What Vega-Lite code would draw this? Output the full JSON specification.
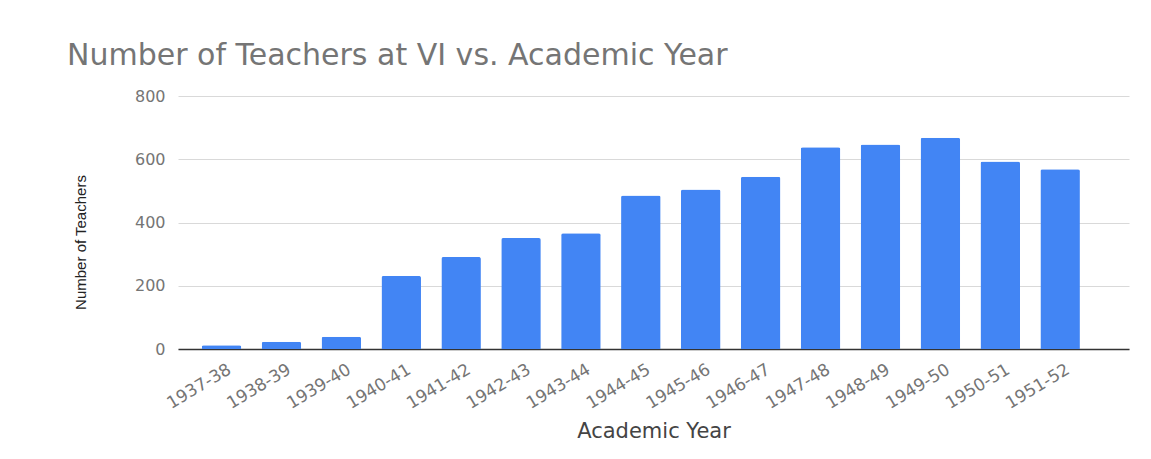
{
  "$schema": "https://vega.github.io/schema/vega-lite/v6.json",
  "autosize": {"type": "none"},
  "padding": {"left": 178, "top": 96, "right": 22, "bottom": 110},
  "width": 951,
  "height": 253,
  "background": "white",
  "title": {
    "text": "Number of Teachers at VI vs. Academic Year",
    "anchor": "start",
    "frame": "group",
    "dx": -111,
    "dy": 29,
    "offset": 22,
    "baseline": "alphabetic",
    "font": "DejaVu Sans",
    "fontSize": 30,
    "fontWeight": "normal",
    "color": "#757575"
  },
  "data": {
    "values": [
      {"year": "1937-38", "teachers": 12},
      {"year": "1938-39", "teachers": 23},
      {"year": "1939-40", "teachers": 39},
      {"year": "1940-41", "teachers": 231},
      {"year": "1941-42", "teachers": 291},
      {"year": "1942-43", "teachers": 351},
      {"year": "1943-44", "teachers": 366},
      {"year": "1944-45", "teachers": 485},
      {"year": "1945-46", "teachers": 504},
      {"year": "1946-47", "teachers": 545},
      {"year": "1947-48", "teachers": 638},
      {"year": "1948-49", "teachers": 647},
      {"year": "1949-50", "teachers": 668},
      {"year": "1950-51", "teachers": 593},
      {"year": "1951-52", "teachers": 568}
    ]
  },
  "mark": {"type": "bar", "color": "#4285F4", "cornerRadiusTopLeft": 2, "cornerRadiusTopRight": 2},
  "encoding": {
    "x": {
      "field": "year",
      "type": "nominal",
      "sort": null,
      "scale": {"paddingInner": 0.34, "paddingOuter": 0.608, "align": 0.326},
      "axis": {
        "title": "Academic Year",
        "titleFont": "DejaVu Sans",
        "titleFontSize": 21,
        "titleFontWeight": "normal",
        "titleColor": "#444444",
        "titlePadding": 9,
        "labelAngle": -31,
        "labelAlign": "right",
        "labelBaseline": "top",
        "labelFont": "DejaVu Sans",
        "labelFontSize": 17,
        "labelColor": "#757575",
        "labelPadding": 12,
        "labelOffset": 4,
        "ticks": false,
        "tickSize": 0,
        "domain": true,
        "domainColor": "#333333",
        "domainWidth": 1.5,
        "grid": false
      }
    },
    "y": {
      "field": "teachers",
      "type": "quantitative",
      "scale": {"domain": [0, 800]},
      "axis": {
        "title": "Number of Teachers",
        "titleFont": "Liberation Sans",
        "titleFontSize": 15,
        "titleFontWeight": "normal",
        "titleColor": "#222222",
        "titleX": -98,
        "titleY": 146,
        "titleAngle": -90,
        "titleAlign": "center",
        "titleBaseline": "middle",
        "values": [0, 200, 400, 600, 800],
        "labelFont": "DejaVu Sans",
        "labelFontSize": 16,
        "labelColor": "#757575",
        "labelPadding": 13,
        "ticks": false,
        "tickSize": 0,
        "domain": false,
        "grid": true,
        "gridColor": "#d9d9d9",
        "gridWidth": 1
      }
    }
  },
  "config": {
    "view": {"stroke": null}
  }
}
